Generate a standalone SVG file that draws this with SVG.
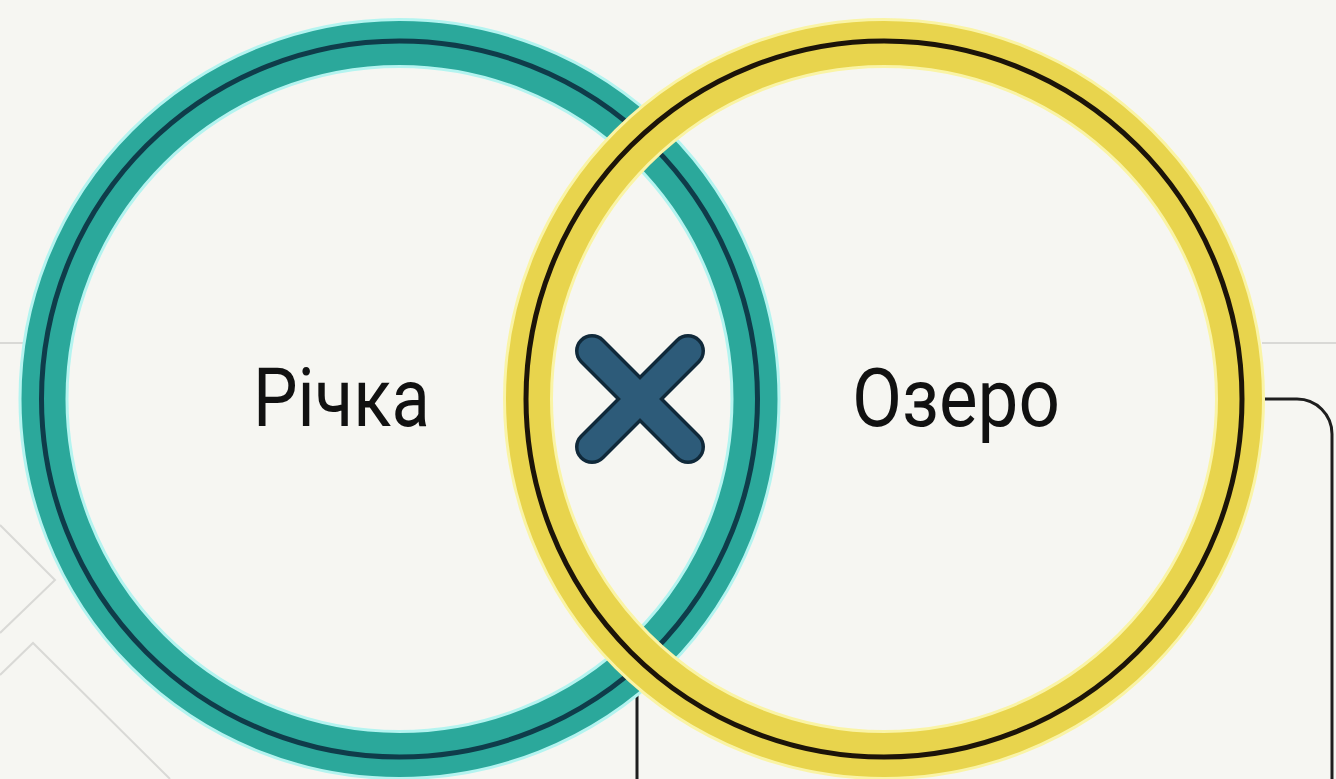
<svg xmlns="http://www.w3.org/2000/svg" width="1336" height="779" viewBox="0 0 1336 779">
  <style>
    .bgline { stroke: #d9d9d6; stroke-width: 2; fill: none; }
    .conn { stroke: #1e1e1e; stroke-width: 3; fill: none; }
    .glow-t { stroke: #b4f4f0; stroke-width: 50; fill: none; }
    .band-t { stroke: #2ba89b; stroke-width: 44; fill: none; }
    .line-t { stroke: #0f3c4a; stroke-width: 5; fill: none; }
    .glow-y { stroke: #faf4a6; stroke-width: 50; fill: none; }
    .band-y { stroke: #e8d44d; stroke-width: 44; fill: none; }
    .line-y { stroke: #1c1409; stroke-width: 5; fill: none; }
    .label { font-family: Roboto, "Liberation Sans", sans-serif; font-size: 82px; fill: #111111; }
    .x-out { stroke: #10293a; stroke-width: 34; stroke-linecap: round; }
    .x-in { stroke: #2d5b79; stroke-width: 27; stroke-linecap: round; }
  </style>
  <rect x="0" y="0" width="1336" height="779" fill="#f6f6f2"/>
  <g id="background">
    <line class="bgline" x1="0" y1="343" x2="24" y2="343"/>
    <line class="bgline" x1="1262" y1="343" x2="1336" y2="343"/>
    <polyline class="bgline" points="0,525 55,580 0,633"/>
    <polyline class="bgline" points="0,675 33,643 170,779"/>
  </g>
  <g id="connectors">
    <path class="conn" d="M637,665 L637,779"/>
    <path class="conn" d="M1262,399 L1297,399 A35,35 0 0 1 1332,434 L1332,779"/>
  </g>
  <g id="node-river">
    <circle class="glow-t" cx="399.5" cy="399" r="356"/>
    <circle class="band-t" cx="399.5" cy="399" r="356"/>
    <circle class="line-t" cx="399.5" cy="399" r="358"/>
    <text class="label" x="253" y="426" textLength="177" lengthAdjust="spacingAndGlyphs">Річка</text>
  </g>
  <g id="node-lake">
    <circle class="glow-y" cx="884" cy="399" r="356"/>
    <circle class="band-y" cx="884" cy="399" r="356"/>
    <circle class="line-y" cx="884" cy="399" r="358"/>
    <text class="label" x="852" y="426" textLength="208" lengthAdjust="spacingAndGlyphs">Озеро</text>
  </g>
  <g id="node-cross">
    <line class="x-out" x1="592" y1="351" x2="688" y2="447"/>
    <line class="x-out" x1="592" y1="447" x2="688" y2="351"/>
    <line class="x-in" x1="592" y1="351" x2="688" y2="447"/>
    <line class="x-in" x1="592" y1="447" x2="688" y2="351"/>
  </g>
</svg>
